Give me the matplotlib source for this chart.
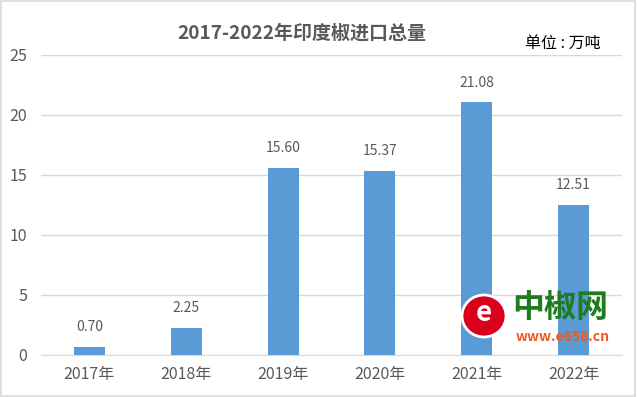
import matplotlib
matplotlib.use('Agg')
import matplotlib.pyplot as plt
from matplotlib.patches import Rectangle, Ellipse

plt.rcParams['font.family'] = ['Noto Sans CJK SC', 'DejaVu Sans']

# data
years = ['2017年', '2018年', '2019年', '2020年', '2021年', '2022年']
imports = [0.70, 2.25, 15.60, 15.37, 21.08, 12.51]
yticks = [0, 5, 10, 15, 20, 25]

text_grey = '#595959'
bar_blue = '#5B9BD5'
grid_grey = '#D9D9D9'

fig = plt.figure(figsize=(6.37, 3.97), dpi=100)
ax = fig.add_axes([0.0644, 0.1058, 0.912, 0.7557])

x = range(len(years))
bars = ax.bar(x, imports, width=0.32, color=bar_blue, zorder=3)
for b, v in zip(bars, imports):
    ax.annotate('%.2f' % v, (b.get_x() + b.get_width() / 2, v),
                xytext=(0, 9), textcoords='offset points',
                ha='center', va='bottom', fontsize=10, color=text_grey)

ax.set_xlim(-0.5, len(years) - 0.5)
ax.set_ylim(0, 25)
ax.set_yticks(yticks)
ax.set_xticks(list(x))
ax.set_xticklabels(years)
ax.yaxis.grid(True, color=grid_grey, linewidth=1, zorder=0)
for s in ax.spines.values():
    s.set_visible(False)
ax.spines['bottom'].set_visible(True)
ax.spines['bottom'].set_color(grid_grey)
ax.tick_params(length=0, labelsize=11.5, colors=text_grey)
ax.tick_params(axis='x', pad=8)
ax.tick_params(axis='y', pad=10)

fig.text(0.474, 0.917, '2017-2022年印度椒进口总量', ha='center', va='center',
         fontsize=13.7, fontweight='bold', color=text_grey)
fig.text(0.884, 0.890, '单位 : 万吨', ha='center', va='center', fontsize=11.5, color='black')

# watermark logo
fig.patches.append(Ellipse((484 / 637, 1 - 316 / 397), 44 / 637, 42 / 397,
                           transform=fig.transFigure, facecolor='#D9001B',
                           edgecolor='white', linewidth=2, zorder=5))
fig.text(484 / 637, 1 - 313 / 397, 'e', ha='center', va='center', fontsize=20,
         fontweight='bold', color='white', zorder=6)
fig.text(560 / 637, 1 - 309 / 397, '中椒网', ha='center', va='center', fontsize=23,
         fontweight='bold', color='#1E7B1E', zorder=6)
fig.text(563 / 637, 1 - 337 / 397, 'www.e658.cn', ha='center', va='center', fontsize=10,
         fontweight='bold', fontstyle='italic', color='#F05A1A', zorder=6)

# outer border
fig.patches.append(Rectangle((0.002, 0.003), 0.995, 0.994, transform=fig.transFigure,
                             fill=False, edgecolor=grid_grey, linewidth=1.2))

fig.savefig('out.png', dpi=100)
